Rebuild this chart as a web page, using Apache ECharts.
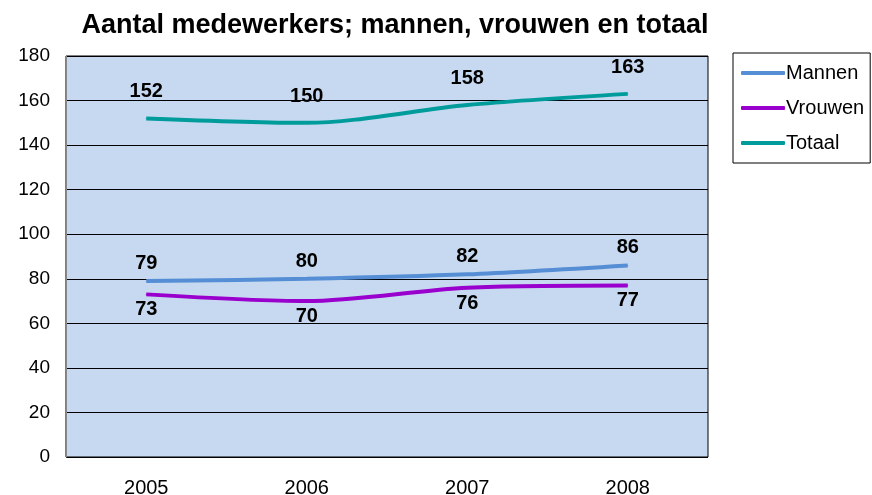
<!DOCTYPE html>
<html>
<head>
<meta charset="utf-8">
<script src="https://cdn.jsdelivr.net/npm/echarts@6.0.0/dist/echarts.min.js"></script>
<style>
  html, body { margin: 0; padding: 0; background: #fff; }
  #chart { width: 872px; height: 495px; }
</style>
</head>
<body>
<div id="chart"></div>
<script>
const years = ['2005', '2006', '2007', '2008']
const mannen = [79, 80, 82, 86]
const vrouwen = [73, 70, 76, 77]
const totaal = [152, 150, 158, 163]

const FONT = '"Liberation Sans", Arial, sans-serif'

const lineSeries = (name, data, color, pos, dist) => ({
  name: name,
  type: 'line',
  data: data,
  smooth: 0.3,
  symbol: 'circle',
  symbolSize: 1,
  lineStyle: { width: 4, color: color },
  itemStyle: { color: color },
  label: {
    show: true,
    position: pos,
    distance: dist,
    fontFamily: FONT,
    fontWeight: 'bold',
    fontSize: 20,
    color: '#000'
  }
})

const chart = echarts.init(document.getElementById('chart'))
chart.setOption({
  animation: false,
  title: {
    text: 'Aantal medewerkers; mannen, vrouwen en totaal',
    left: 390,
    textAlign: 'center',
    top: 7,
    textStyle: { fontFamily: FONT, fontWeight: 'bold', fontSize: 27, color: '#000' }
  },
  legend: {
    orient: 'vertical',
    left: 733,
    top: 53,
    width: 137,
    padding: [10, 6, 10, 8],
    itemGap: 15,
    itemWidth: 44,
    itemHeight: 4,
    borderColor: '#000',
    borderWidth: 1,
    icon: 'roundRect',
    textStyle: { fontFamily: FONT, fontSize: 20, color: '#000', padding: [0, 0, 0, -4] },
    data: ['Mannen', 'Vrouwen', 'Totaal']
  },
  grid: {
    left: 66,
    right: 164,
    top: 56,
    bottom: 38,
    outerBoundsMode: 'none',
    show: true,
    backgroundColor: '#C6D9F0',
    borderColor: '#000',
    borderWidth: 1
  },
  xAxis: {
    type: 'category',
    data: years,
    boundaryGap: true,
    axisLine: { show: false },
    axisTick: { show: false },
    axisLabel: { margin: 21, fontFamily: FONT, fontSize: 20, color: '#000' }
  },
  yAxis: {
    type: 'value',
    min: 0,
    max: 180,
    interval: 20,
    axisLine: { show: true, lineStyle: { color: '#888', width: 1 } },
    axisTick: { show: false },
    splitLine: { lineStyle: { color: '#000', width: 1 } },
    axisLabel: { margin: 16, fontFamily: FONT, fontSize: 19, color: '#000' }
  },
  series: [
    lineSeries('Mannen', mannen, '#558ED5', 'top', 7),
    lineSeries('Vrouwen', vrouwen, '#9A00CD', 'bottom', 5),
    lineSeries('Totaal', totaal, '#009B9B', 'top', 16)
  ]
})
</script>
</body>
</html>
